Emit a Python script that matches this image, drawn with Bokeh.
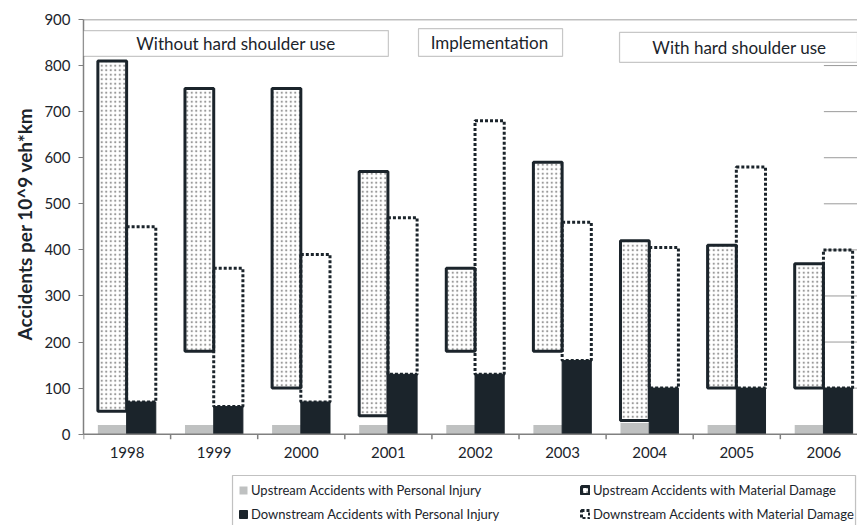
from bokeh.plotting import figure
from bokeh.models import (Range1d, FixedTicker, Span, BoxAnnotation, Label,
                          Legend, LegendItem, Title)
from bokeh.embed import file_html
from bokeh.resources import INLINE

# ---- data ----
years = ["1998", "1999", "2000", "2001", "2002", "2003", "2004", "2005", "2006"]
upstream_injury = [20, 20, 20, 20, 20, 20, 25, 20, 20]
upstream_damage_bottom = [50, 180, 100, 40, 180, 180, 30, 100, 100]
upstream_damage_top = [810, 750, 750, 570, 360, 590, 420, 410, 370]
downstream_injury = [70, 60, 70, 130, 130, 160, 100, 100, 100]
downstream_damage_top = [450, 360, 390, 470, 680, 460, 405, 580, 400]
y_ticks = [0, 100, 200, 300, 400, 500, 600, 700, 800, 900]

labels = ["Upstream Accidents with Personal Injury",
          "Upstream Accidents with Material Damage",
          "Downstream Accidents with Personal Injury",
          "Downstream Accidents with Material Damage"]

DARK = "#1b242b"
GREY = "#bfc1c1"
AXIS = "#808080"
FONT = "Lato"

n = len(years)
x_end = n - 0.114
idx = list(range(n))
up_left = [i + 0.165 for i in idx]
up_right = [i + 0.495 for i in idx]
dn_left = [i + 0.495 for i in idx]
dn_right = [i + 0.83 for i in idx]

H = 525
TOP = 19
PX_PER_UNIT = (433.7 - TOP) / 900.0          # vertical scale of the value axis
y_start = -(H - 433.7) / PX_PER_UNIT          # room under the axis for labels + legend

p = figure(width=857, height=H, output_backend="svg", toolbar_location=None,
           x_range=Range1d(0, x_end), y_range=Range1d(y_start, 900),
           min_border_left=83, min_border_right=0, min_border_top=TOP,
           min_border_bottom=0, x_axis_location=None)
p.outline_line_color = None
p.xgrid.visible = False
p.ygrid.visible = False

# grid lines that are visible at the right edge only
p.segment(x0=[n - 0.5] * (len(y_ticks) - 2), x1=[x_end] * (len(y_ticks) - 2),
          y0=y_ticks[1:-1], y1=y_ticks[1:-1], line_color="#9a9a9a", line_width=1)
p.add_layout(Span(location=y_ticks[-1], dimension="width", line_color=AXIS, line_width=1.5))

# upstream: injury (grey), gap (white), damage (stippled)
r_upi = p.quad(left=up_left, right=up_right, bottom=[0] * n, top=upstream_injury,
               fill_color=GREY, line_color=None)
p.quad(left=up_left, right=up_right, bottom=upstream_injury, top=upstream_damage_bottom,
       fill_color="white", line_color=None)
r_umd = p.quad(left=up_left, right=up_right, bottom=upstream_damage_bottom, top=upstream_damage_top,
               fill_color="white", hatch_pattern="dot", hatch_color="#9a9a9a",
               hatch_scale=4.5, hatch_weight=1.2, line_color=DARK, line_width=3)
# downstream: injury (black), damage (dotted outline)
r_dmd = p.quad(left=dn_left, right=dn_right, bottom=downstream_injury, top=downstream_damage_top,
               fill_color=None, line_color=DARK, line_width=3, line_dash="3 2")
r_dpi = p.quad(left=dn_left, right=dn_right, bottom=[0] * n, top=downstream_injury,
               fill_color=DARK, line_color=DARK, line_width=1)

# category (x) axis: line, boundary ticks, year labels
p.add_layout(Span(location=0, dimension="width", line_color=AXIS, line_width=1.5))
tick_len = 5 / PX_PER_UNIT
p.segment(x0=list(range(n + 1)), x1=list(range(n + 1)), y0=[0] * (n + 1),
          y1=[-tick_len] * (n + 1), line_color=AXIS, line_width=1.5)
p.text(x=[i + 0.5 for i in idx], y=[0] * n, text=years, y_offset=13,
       text_align="center", text_baseline="top", text_font={"value": FONT},
       text_font_size="15px", text_color=DARK)

# period boxes
for (l, r, b, t, txt, xc, yc) in [
    (0.0, 3.50, 820, 876, "Without hard shoulder use", 1.75, 848),
    (3.846, 5.50, 820, 880, "Implementation", 4.66, 850),
    (6.154, x_end, 807, 872, "With hard shoulder use", 7.53, 839),
]:
    p.add_layout(BoxAnnotation(left=l, right=r, bottom=b, top=t, fill_color="white",
                               fill_alpha=1, line_color="#444444", line_width=1.2))
    p.add_layout(Label(x=xc, y=yc, text=txt, text_align="center", text_baseline="middle",
                       text_font=FONT, text_font_size="17px", text_color=DARK))

# value (y) axis
p.yaxis.bounds = (0, 900)
p.yaxis.ticker = FixedTicker(ticks=y_ticks)
p.yaxis.major_tick_out = 5
p.yaxis.major_tick_in = 0
p.yaxis.minor_tick_out = 0
p.yaxis.minor_tick_in = 0
p.yaxis.major_label_standoff = 8
p.yaxis.axis_line_color = AXIS
p.yaxis.axis_line_width = 1.5
p.yaxis.major_tick_line_color = AXIS
p.yaxis.major_label_text_font = FONT
p.yaxis.major_label_text_font_size = "15px"
p.yaxis.major_label_text_color = DARK

# y axis title, placed beside the value range
p.add_layout(Title(text="Accidents per 10^9 veh*km", align="left", offset=185,
                   standoff=12, text_font=FONT, text_font_style="bold",
                   text_font_size="19px", text_color=DARK), "left")

# legend box and two legend columns
p.add_layout(BoxAnnotation(left=(232 - 83) / 87.1, right=(855 - 83) / 87.1,
                           top=-(475 - 433.7) / PX_PER_UNIT, bottom=None,
                           fill_color="white", fill_alpha=1,
                           line_color="#333333", line_width=1.2))
common = dict(label_text_font=FONT, label_text_font_size="13px", label_text_color=DARK,
              glyph_width=10, glyph_height=10, label_height=18, label_standoff=3,
              padding=0, margin=0, spacing=6, border_line_color=None,
              background_fill_alpha=0)
leg1 = Legend(items=[LegendItem(label=labels[0], renderers=[r_upi]),
                     LegendItem(label=labels[2], renderers=[r_dpi])],
              location=(155, 2), **common)
leg2 = Legend(items=[LegendItem(label=labels[1], renderers=[r_umd]),
                     LegendItem(label=labels[3], renderers=[r_dmd])],
              location=(497, 2), **common)
p.add_layout(leg1)
p.add_layout(leg2)

open("out.html", "w").write(file_html(p, INLINE))
